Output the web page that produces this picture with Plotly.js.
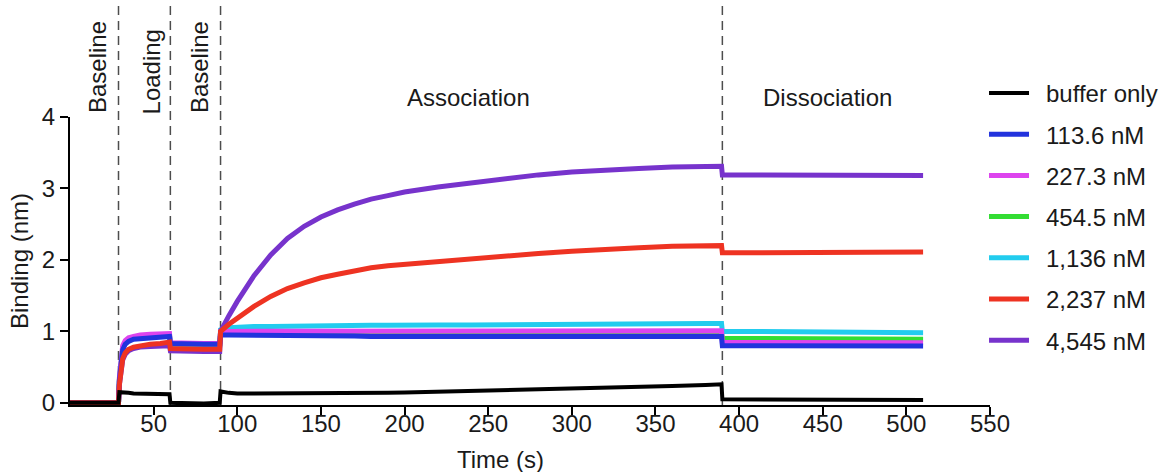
<!DOCTYPE html>
<html>
<head>
<meta charset="utf-8">
<script src="https://cdn.plot.ly/plotly-3.0.1.min.js"></script>
<style>
  html, body { margin: 0; padding: 0; background: #fff; }
  #chart { width: 1163px; height: 472px; }
</style>
</head>
<body>
<div id="chart"></div>
<script>
// Time points (s)
const time = [0, 15, 29, 29.5, 30.5, 31.5, 33, 35, 38, 42, 48, 54, 59.5,
  60, 70, 80, 89.5,
  90, 95, 100, 110, 120, 130, 140, 150, 160, 170, 180, 190, 200, 220, 240, 260, 280, 300, 320, 340, 360, 380, 389.5,
  390, 400, 430, 460, 490, 510];

const seriesNames = ["buffer only", "113.6 nM", "227.3 nM", "454.5 nM", "1,136 nM", "2,237 nM", "4,545 nM"];

const bufferOnly = [0, 0, 0,
  0.15, 0.15, 0.14, 0.14, 0.14, 0.13, 0.13, 0.13, 0.13, 0.12,
  0, -0.01, -0.01, 0,
  0.16, 0.14, 0.13, 0.13, 0.13, 0.13, 0.13, 0.13, 0.13, 0.135, 0.14, 0.14, 0.145, 0.155, 0.165, 0.175, 0.19, 0.2, 0.21, 0.225, 0.235, 0.25, 0.26,
  0.05, 0.05, 0.05, 0.045, 0.045, 0.04];

const nM113 = [0, 0, 0,
  0.3, 0.62, 0.74, 0.82, 0.86, 0.89, 0.9, 0.91, 0.92, 0.93,
  0.83, 0.82, 0.82, 0.82,
  0.95, 0.95, 0.95, 0.95, 0.945, 0.94, 0.94, 0.94, 0.935, 0.935, 0.93, 0.93, 0.93, 0.925, 0.925, 0.925, 0.925, 0.925, 0.925, 0.925, 0.925, 0.93, 0.93,
  0.8, 0.8, 0.8, 0.795, 0.795, 0.795];

const nM227 = [0, 0, 0,
  0.35, 0.68, 0.8, 0.87, 0.91, 0.93, 0.95, 0.96, 0.965, 0.97,
  0.84, 0.83, 0.83, 0.83,
  1.0, 1.0, 1.0, 1.0, 1.0, 1.0, 1.0, 1.0, 1.0, 1.0, 1.0, 1.0, 1.0, 1.0, 1.005, 1.005, 1.005, 1.01, 1.01, 1.01, 1.01, 1.01, 1.01,
  0.845, 0.845, 0.84, 0.84, 0.84, 0.84];

const nM454 = [0, 0, 0,
  0.32, 0.65, 0.77, 0.85, 0.89, 0.91, 0.93, 0.94, 0.945, 0.95,
  0.82, 0.81, 0.81, 0.81,
  0.98, 0.98, 0.98, 0.98, 0.98, 0.98, 0.98, 0.98, 0.98, 0.98, 0.98, 0.98, 0.98, 0.98, 0.98, 0.98, 0.985, 0.985, 0.985, 0.985, 0.99, 0.99, 0.99,
  0.905, 0.905, 0.9, 0.895, 0.895, 0.89];

const nM1136 = [0, 0, 0,
  0.32, 0.64, 0.76, 0.84, 0.88, 0.9, 0.92, 0.93, 0.935, 0.94,
  0.82, 0.81, 0.81, 0.81,
  1.02, 1.05, 1.06, 1.07, 1.07, 1.075, 1.075, 1.08, 1.08, 1.08, 1.085, 1.085, 1.09, 1.09, 1.09, 1.095, 1.095, 1.1, 1.1, 1.1, 1.105, 1.11, 1.11,
  1.0, 1.0, 0.99, 0.99, 0.98, 0.98];

const nM2237 = [0, 0, 0,
  0.25, 0.5, 0.62, 0.7, 0.75, 0.78, 0.8, 0.82, 0.83, 0.85,
  0.76, 0.75, 0.75, 0.75,
  1.0, 1.1, 1.19, 1.35, 1.49, 1.6, 1.68, 1.75, 1.8, 1.85, 1.89, 1.92, 1.94, 1.98, 2.02, 2.05, 2.09, 2.12, 2.15, 2.17, 2.19, 2.2, 2.2,
  2.1, 2.1, 2.11, 2.11, 2.11, 2.11];

const nM4545 = [0, 0, 0,
  0.25, 0.48, 0.6, 0.68, 0.73, 0.76, 0.78, 0.79, 0.8, 0.8,
  0.73, 0.72, 0.72, 0.72,
  1.0, 1.22, 1.42, 1.78, 2.07, 2.3, 2.47, 2.6, 2.7, 2.78, 2.85, 2.9, 2.95, 3.02, 3.08, 3.14, 3.19, 3.23, 3.26, 3.28, 3.3, 3.31, 3.31,
  3.19, 3.19, 3.19, 3.19, 3.18, 3.18];

const seriesValues = [bufferOnly, nM113, nM227, nM454, nM1136, nM2237, nM4545];
const seriesColors = ["#000000", "#2233dd", "#dd44ee", "#33dd33", "#22ccee", "#ee3322", "#7733cc"];

const stepTimes = [29, 60, 90, 390];
const phaseLabels = ["Baseline", "Loading", "Baseline", "Association", "Dissociation"];
const phaseLabelX = [16.5, 49, 77.5, 238, 453];

const xTicks = [50, 100, 150, 200, 250, 300, 350, 400, 450, 500, 550];
const yTicks = [0, 1, 2, 3, 4];

const FONT = "Liberation Sans, Arial, Helvetica, sans-serif";
const TXT = "#1a1a1a";

// Drawing order (later = on top); legend order kept via legendrank
const drawOrder = [3, 4, 2, 1, 6, 5, 0];
const traces = drawOrder.map(i => ({
  type: "scatter",
  mode: "lines",
  name: "\u2002" + seriesNames[i],
  legendgroup: "g" + i,
  legendrank: i + 1,
  x: time,
  y: seriesValues[i],
  line: { color: seriesColors[i], width: i === 0 ? 4 : 5 },
  hoverinfo: "skip"
}));

const shapes = stepTimes.map(t => ({
  type: "line", xref: "x", yref: "paper",
  x0: t, x1: t, y0: 0, y1: 1.385,
  layer: "below",
  line: { color: "#4d4d4d", width: 1.5, dash: "9px,6px" }
}));

const annotations = [];
phaseLabels.forEach((lab, i) => {
  const rotated = i < 3;
  annotations.push({
    text: lab, xref: "x", yref: "paper",
    x: phaseLabelX[i],
    y: rotated ? (i === 1 ? 1.158 : 1.172) : 1.069,
    textangle: rotated ? -90 : 0,
    showarrow: false, xanchor: "center", yanchor: "middle",
    font: { family: FONT, size: 24, color: TXT }
  });
});
annotations.push({
  text: "Time (s)", xref: "paper", yref: "paper",
  x: 0.468, y: -0.19, showarrow: false, xanchor: "center", yanchor: "middle",
  font: { family: FONT, size: 24, color: TXT }
});

const layout = {
  width: 1163, height: 472,
  margin: { l: 70, r: 173, t: 117, b: 67, autoexpand: false },
  paper_bgcolor: "#ffffff", plot_bgcolor: "#ffffff",
  font: { family: FONT, size: 24, color: TXT },
  showlegend: true,
  legend: {
    x: 0.9935, xanchor: "left", y: 1.16, yanchor: "top",
    font: { family: FONT, size: 24, color: TXT },
    tracegroupgap: 7, itemwidth: 40, bgcolor: "rgba(0,0,0,0)",
    traceorder: "grouped", maxheight: 600
  },
  xaxis: {
    range: [0, 550], tickvals: xTicks, ticktext: xTicks.map(String),
    showgrid: false, zeroline: false, showline: true, linecolor: "#000", linewidth: 2,
    ticks: "outside", ticklen: 8, tickwidth: 2, tickcolor: "#000",
    ticklabelstandoff: -12,
    tickfont: { family: FONT, size: 24, color: TXT }
  },
  yaxis: {
    range: [-0.03, 4], tickvals: yTicks, ticktext: yTicks.map(String),
    showgrid: false, zeroline: false, showline: true, linecolor: "#000", linewidth: 2,
    ticks: "outside", ticklen: 8, tickwidth: 2, tickcolor: "#000",
    tickfont: { family: FONT, size: 24, color: TXT },
    title: { text: "Binding (nm)", font: { family: FONT, size: 24, color: TXT }, standoff: 6 }
  },
  shapes: shapes,
  annotations: annotations
};

Plotly.newPlot("chart", traces, layout, { displayModeBar: false, staticPlot: true });
</script>
</body>
</html>
